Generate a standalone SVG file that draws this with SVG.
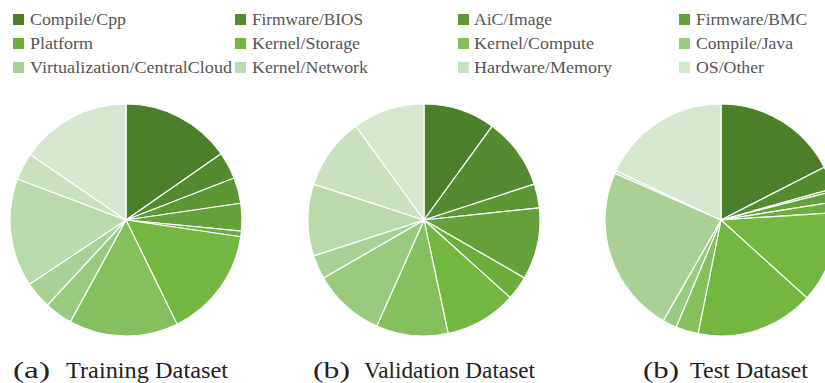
<svg xmlns="http://www.w3.org/2000/svg" width="825" height="383" viewBox="0 0 825 383">
<style>
.lg{font-family:"Liberation Serif","DejaVu Serif",serif;font-size:16.5px;fill:#555}
.cap{font-family:"Liberation Serif","DejaVu Serif",serif;font-size:23px;fill:#222}
.s path{stroke:#fff;stroke-width:1.2;stroke-linejoin:round}
.c1{fill:#4b7f29}.c2{fill:#548b30}.c3{fill:#5c9735}.c4{fill:#64a13a}
.c5{fill:#6cae3e}.c6{fill:#73b741}.c7{fill:#84c05d}.c8{fill:#98ca80}
.c9{fill:#a9d195}.c10{fill:#bad9ac}.c11{fill:#c9e1bf}.c12{fill:#d6e7cf}
</style>
<g id="legend">
<rect class="c1" x="13" y="14" width="11" height="11"/><text class="lg" x="30" y="25" textLength="96" lengthAdjust="spacingAndGlyphs">Compile/Cpp</text>
<rect class="c2" x="235" y="14" width="11" height="11"/><text class="lg" x="252" y="25" textLength="111" lengthAdjust="spacingAndGlyphs">Firmware/BIOS</text>
<rect class="c3" x="458" y="14" width="11" height="11"/><text class="lg" x="474" y="25" textLength="78" lengthAdjust="spacingAndGlyphs">AiC/Image</text>
<rect class="c4" x="679" y="14" width="11" height="11"/><text class="lg" x="696" y="25" textLength="111" lengthAdjust="spacingAndGlyphs">Firmware/BMC</text>
<rect class="c5" x="13" y="38" width="11" height="11"/><text class="lg" x="30" y="49" textLength="63" lengthAdjust="spacingAndGlyphs">Platform</text>
<rect class="c6" x="235" y="38" width="11" height="11"/><text class="lg" x="252" y="49" textLength="108" lengthAdjust="spacingAndGlyphs">Kernel/Storage</text>
<rect class="c7" x="458" y="38" width="11" height="11"/><text class="lg" x="474" y="49" textLength="120" lengthAdjust="spacingAndGlyphs">Kernel/Compute</text>
<rect class="c8" x="679" y="38" width="11" height="11"/><text class="lg" x="696" y="49" textLength="97" lengthAdjust="spacingAndGlyphs">Compile/Java</text>
<rect class="c9" x="13" y="62" width="11" height="11"/><text class="lg" x="30" y="73" textLength="202" lengthAdjust="spacingAndGlyphs">Virtualization/CentralCloud</text>
<rect class="c10" x="235" y="62" width="11" height="11"/><text class="lg" x="252" y="73" textLength="116" lengthAdjust="spacingAndGlyphs">Kernel/Network</text>
<rect class="c11" x="458" y="62" width="11" height="11"/><text class="lg" x="474" y="73" textLength="138" lengthAdjust="spacingAndGlyphs">Hardware/Memory</text>
<rect class="c12" x="679" y="62" width="11" height="11"/><text class="lg" x="696" y="73" textLength="68" lengthAdjust="spacingAndGlyphs">OS/Other</text>
</g>
<g id="pie-training" class="s">
<path class="c1" d="M126 220L126 104A116 116 0 0 1 221.14 153.64Z"/>
<path class="c2" d="M126 220L221.14 153.64A116 116 0 0 1 234.15 178.05Z"/>
<path class="c3" d="M126 220L234.15 178.05A116 116 0 0 1 240.79 203.25Z"/>
<path class="c4" d="M126 220L240.79 203.25A116 116 0 0 1 241.46 231.12Z"/>
<path class="c5" d="M126 220L241.46 231.12A116 116 0 0 1 240.79 236.75Z"/>
<path class="c6" d="M126 220L240.79 236.75A116 116 0 0 1 177.03 324.17Z"/>
<path class="c7" d="M126 220L177.03 324.17A116 116 0 0 1 70.30 321.74Z"/>
<path class="c8" d="M126 220L70.30 321.74A116 116 0 0 1 47.33 305.25Z"/>
<path class="c9" d="M126 220L47.33 305.25A116 116 0 0 1 29.38 284.19Z"/>
<path class="c10" d="M126 220L29.38 284.19A116 116 0 0 1 17.49 179.00Z"/>
<path class="c11" d="M126 220L17.49 179.00A116 116 0 0 1 30.29 154.46Z"/>
<path class="c12" d="M126 220L30.29 154.46A116 116 0 0 1 126 104Z"/>
</g>
<g id="pie-validation" class="s">
<path class="c1" d="M424 220L424 104A116 116 0 0 1 492.18 126.16Z"/>
<path class="c2" d="M424 220L492.18 126.16A116 116 0 0 1 534.33 184.16Z"/>
<path class="c3" d="M424 220L534.33 184.16A116 116 0 0 1 539.36 207.88Z"/>
<path class="c4" d="M424 220L539.36 207.88A116 116 0 0 1 524.46 278Z"/>
<path class="c5" d="M424 220L524.46 278A116 116 0 0 1 510.20 297.62Z"/>
<path class="c6" d="M424 220L510.20 297.62A116 116 0 0 1 448.12 333.46Z"/>
<path class="c7" d="M424 220L448.12 333.46A116 116 0 0 1 376.82 325.97Z"/>
<path class="c8" d="M424 220L376.82 325.97A116 116 0 0 1 323.54 278Z"/>
<path class="c9" d="M424 220L323.54 278A116 116 0 0 1 313.67 255.84Z"/>
<path class="c10" d="M424 220L313.67 255.84A116 116 0 0 1 313.67 184.16Z"/>
<path class="c11" d="M424 220L313.67 184.16A116 116 0 0 1 355.82 126.16Z"/>
<path class="c12" d="M424 220L355.82 126.16A116 116 0 0 1 424 104Z"/>
</g>
<g id="pie-test" class="s">
<path class="c1" d="M721 220L721 104A116 116 0 0 1 824.26 167.16Z"/>
<path class="c2" d="M721 220L824.26 167.16A116 116 0 0 1 832.67 188.61Z"/>
<path class="c3" d="M721 220L832.67 188.61A116 116 0 0 1 833.36 191.15Z"/>
<path class="c4" d="M721 220L833.36 191.15A116 116 0 0 1 835.54 201.65Z"/>
<path class="c5" d="M721 220L835.54 201.65A116 116 0 0 1 836.76 212.52Z"/>
<path class="c6" d="M721 220L836.76 212.52A116 116 0 0 1 806.93 297.92Z"/>
<path class="c6" d="M721 220L806.93 297.92A116 116 0 0 1 698.07 333.71Z"/>
<path class="c7" d="M721 220L698.07 333.71A116 116 0 0 1 676.24 327.01Z"/>
<path class="c8" d="M721 220L676.24 327.01A116 116 0 0 1 663.35 320.66Z"/>
<path class="c9" d="M721 220L663.35 320.66A116 116 0 0 1 614.86 173.19Z"/>
<path class="c11" d="M721 220L614.86 173.19A116 116 0 0 1 615.95 170.79Z"/>
<path class="c12" d="M721 220L615.95 170.79A116 116 0 0 1 721 104Z"/>
</g>
<g id="captions">
<text class="cap" x="13" y="378" textLength="37" lengthAdjust="spacingAndGlyphs">(a)</text>
<text class="cap" x="66" y="378" textLength="162" lengthAdjust="spacingAndGlyphs">Training Dataset</text>
<text class="cap" x="313" y="378" textLength="37" lengthAdjust="spacingAndGlyphs">(b)</text>
<text class="cap" x="364" y="378" textLength="171" lengthAdjust="spacingAndGlyphs">Validation Dataset</text>
<text class="cap" x="643" y="378" textLength="36" lengthAdjust="spacingAndGlyphs">(b)</text>
<text class="cap" x="690" y="378" textLength="118" lengthAdjust="spacingAndGlyphs">Test Dataset</text>
</g>
</svg>
